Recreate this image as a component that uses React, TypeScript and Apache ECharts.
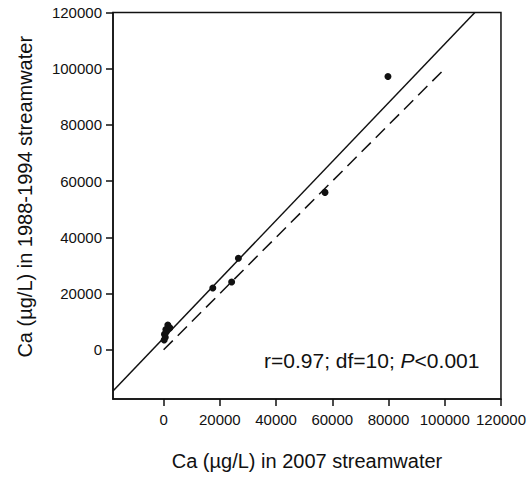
import React, { useEffect, useRef } from "react";
import * as echarts from "echarts";

// Ca concentrations: 2007 streamwater (x) vs 1988-1994 streamwater (y), µg/L
const ca2007 = [79800, 57400, 26600, 17500, 24200, 1500, 2200, 800, 300, 600, 200, 900];
const ca1988 = [97200, 56000, 32600, 22000, 24100, 8800, 7800, 7200, 5500, 4500, 3500, 6300];

// Fitted regression line y = intercept + slope * x
const fitSlope = 1.046;
const fitIntercept = 4200;

// 1:1 reference line extent
const oneToOne = [0, 100000];

const tickValues = [0, 20000, 40000, 60000, 80000, 100000, 120000];
const xMin = -18000;
const yMin = -17500;
const axisMax = 120000;

const statsText = ["r=0.97; df=10; ", "P", "<0.001"];
const xTitle = "Ca (\u00b5g/L) in 2007 streamwater";
const yTitle = "Ca (\u00b5g/L) in 1988-1994 streamwater";

const FONT = "'Liberation Sans', Arial, sans-serif";
const INK = "#111";

export default function App() {
  const ref = useRef<HTMLDivElement>(null);

  useEffect(() => {
    if (!ref.current) return;
    const chart = echarts.init(ref.current, undefined, { renderer: "svg" });

    // Regression line clipped to the plotting window
    const fitStart = [xMin, fitIntercept + fitSlope * xMin];
    const fitEnd = [(axisMax - fitIntercept) / fitSlope, axisMax];

    const axisCommon = {
      type: "value" as const,
      max: axisMax,
      splitLine: { show: false },
      axisLine: { show: true, onZero: false, lineStyle: { color: INK, width: 1.5 } },
      axisTick: {
        show: true,
        inside: false,
        length: 7,
        customValues: tickValues,
        lineStyle: { color: INK, width: 1.5 },
      },
      axisLabel: {
        customValues: tickValues,
        formatter: (v: number) => String(v),
        color: INK,
        fontFamily: FONT,
        fontSize: 15,
      },
    };

    chart.setOption({
      animation: false,
      backgroundColor: "#ffffff",
      grid: {
        left: 113,
        right: 26,
        top: 12.5,
        bottom: 84,
        show: true,
        borderColor: INK,
        borderWidth: 1.5,
        backgroundColor: "transparent",
      },
      xAxis: {
        ...axisCommon,
        min: xMin,
        axisLabel: { ...axisCommon.axisLabel, margin: 13 },
        name: xTitle,
        nameLocation: "middle",
        nameGap: 52,
        nameTextStyle: { color: INK, fontFamily: FONT, fontSize: 20 },
      },
      yAxis: {
        ...axisCommon,
        min: yMin,
        axisLabel: { ...axisCommon.axisLabel, margin: 11 },
        name: yTitle,
        nameLocation: "middle",
        nameGap: 78,
        nameTextStyle: {
          color: INK,
          fontFamily: FONT,
          fontSize: 20,
          padding: [0, 0, 0, 18],
        },
      },
      graphic: [
        {
          type: "text",
          x: 264,
          y: 360,
          style: {
            text: `{n|${statsText[0]}}{i|${statsText[1]}}{n|${statsText[2]}}`,
            verticalAlign: "middle",
            rich: {
              n: { fontFamily: FONT, fontSize: 21, fill: INK, color: INK },
              i: { fontFamily: FONT, fontSize: 21, fontStyle: "italic", fill: INK, color: INK },
            },
          },
        },
      ],
      series: [
        {
          type: "line",
          data: [fitStart, fitEnd],
          symbol: "none",
          lineStyle: { color: INK, width: 1.5 },
          z: 2,
        },
        {
          type: "line",
          data: [
            [oneToOne[0], oneToOne[0]],
            [oneToOne[1], oneToOne[1]],
          ],
          symbol: "none",
          lineStyle: { color: INK, width: 1.5, type: [13, 7] },
          z: 2,
        },
        {
          type: "scatter",
          data: ca2007.map((x, i) => [x, ca1988[i]]),
          symbol: "circle",
          symbolSize: 7,
          itemStyle: { color: INK, opacity: 1 },
          z: 3,
        },
      ],
    });

    return () => chart.dispose();
  }, []);

  return (
    <div
      ref={ref}
      style={{ position: "fixed", left: 0, top: 0, width: 529, height: 483 }}
    />
  );
}
